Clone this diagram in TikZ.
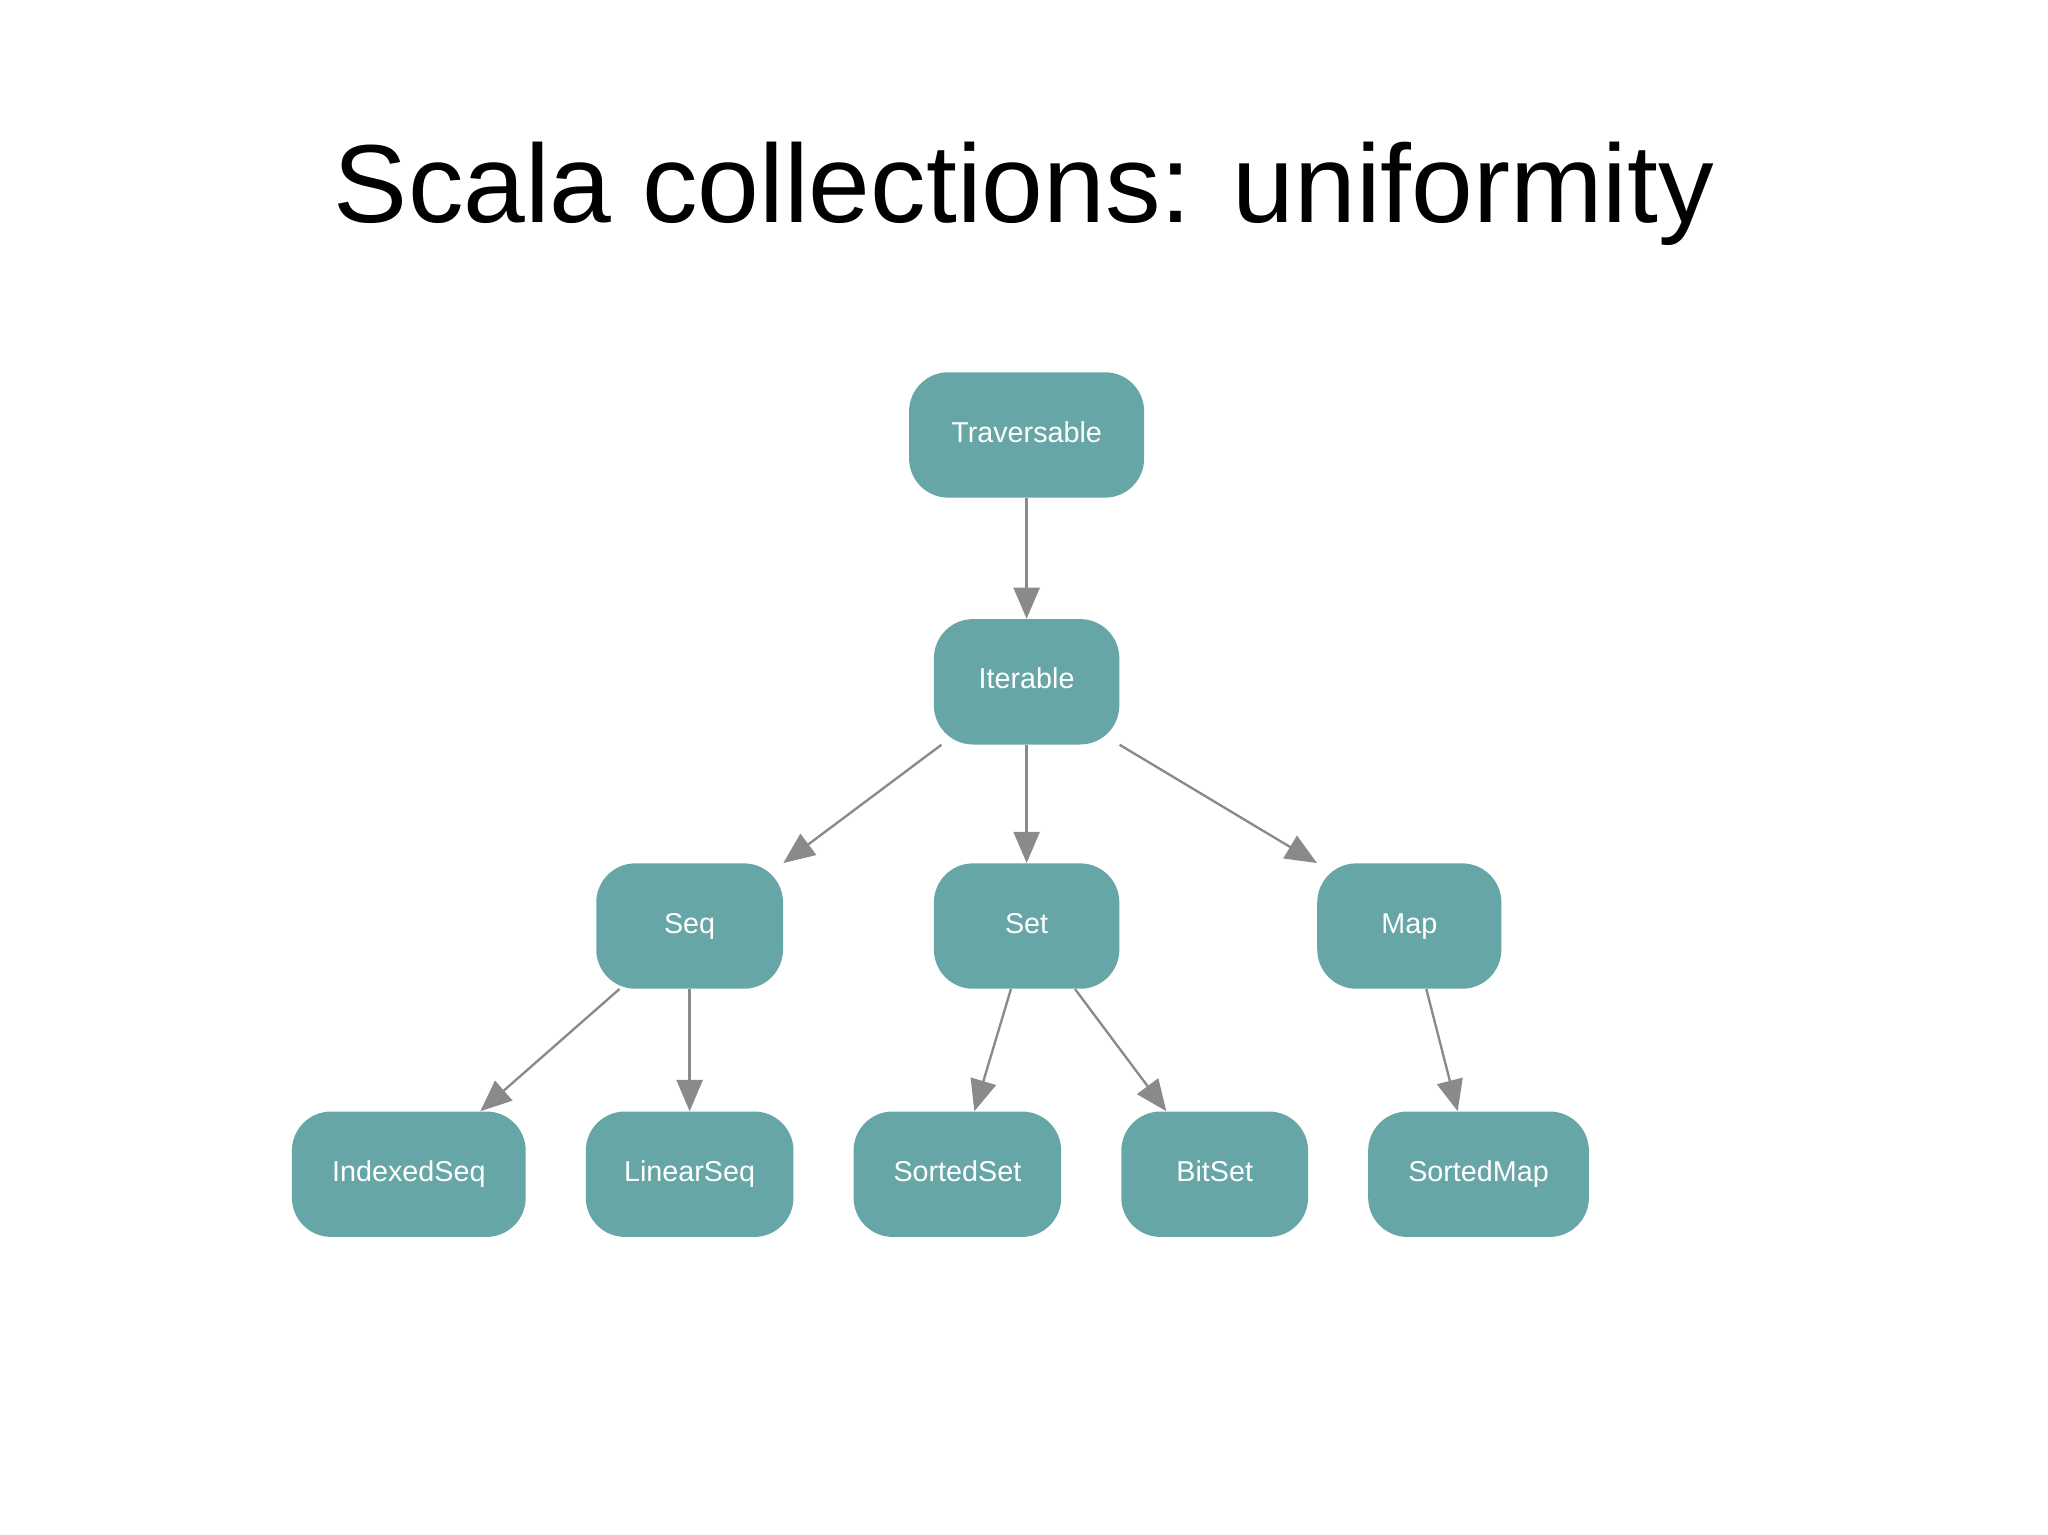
\documentclass[tikz,border=0pt]{standalone}
\usepackage{fontspec}
\setmainfont{Liberation Sans}
\usetikzlibrary{arrows.meta}
\definecolor{teal1}{HTML}{67A6A6}
\definecolor{edgegray}{HTML}{8A8A8A}
\begin{document}
\begin{tikzpicture}[x=1pt,y=-1pt,
  cls/.style={fill=teal1,draw=none,rounded corners=30pt,minimum height=96pt,text=white,font=\fontsize{22}{26}\selectfont,inner sep=0pt,text height=16pt,text depth=5pt},
  edge/.style={draw=edgegray,line width=1.8pt,-{Triangle[length=24pt,width=20pt]}}]
\useasboundingbox (0,0) rectangle (1568,1175);
\node[font=\fontsize{85}{90}\selectfont] (title) at (784,148) {Scala collections: uniformity};
\node[cls,minimum width=180pt] (trav) at (786,333) {Traversable};
\node[cls,minimum width=142pt] (iter) at (786,522) {Iterable};
\node[cls,minimum width=143pt] (seq) at (528,709) {Seq};
\node[cls,minimum width=142pt] (set) at (786,709) {Set};
\node[cls,minimum width=141pt] (map) at (1079,709) {Map};
\node[cls,minimum width=179pt] (iseq) at (313,899) {IndexedSeq};
\node[cls,minimum width=159pt] (lseq) at (528,899) {LinearSeq};
\node[cls,minimum width=159pt] (sset) at (733,899) {SortedSet};
\node[cls,minimum width=143pt] (bset) at (930,899) {BitSet};
\node[cls,minimum width=169pt] (smap) at (1132,899) {SortedMap};
\draw[edge] (trav) -- (iter);
\draw[edge] ([xshift=6pt]iter.south west) -- (seq.north east);
\draw[edge] (iter) -- (set);
\draw[edge] (iter.south east) -- (map.north west);
\draw[edge] ([xshift=18pt]seq.south west) -- ([xshift=-35pt]iseq.north east);
\draw[edge] (seq) -- (lseq);
\draw[edge] ([xshift=-12pt]set.south) -- ([xshift=13pt]sset.north);
\draw[edge] ([xshift=37pt]set.south) -- ([xshift=-37pt]bset.north);
\draw[edge] ([xshift=13pt]map.south) -- ([xshift=-16pt]smap.north);
\end{tikzpicture}
\end{document}
